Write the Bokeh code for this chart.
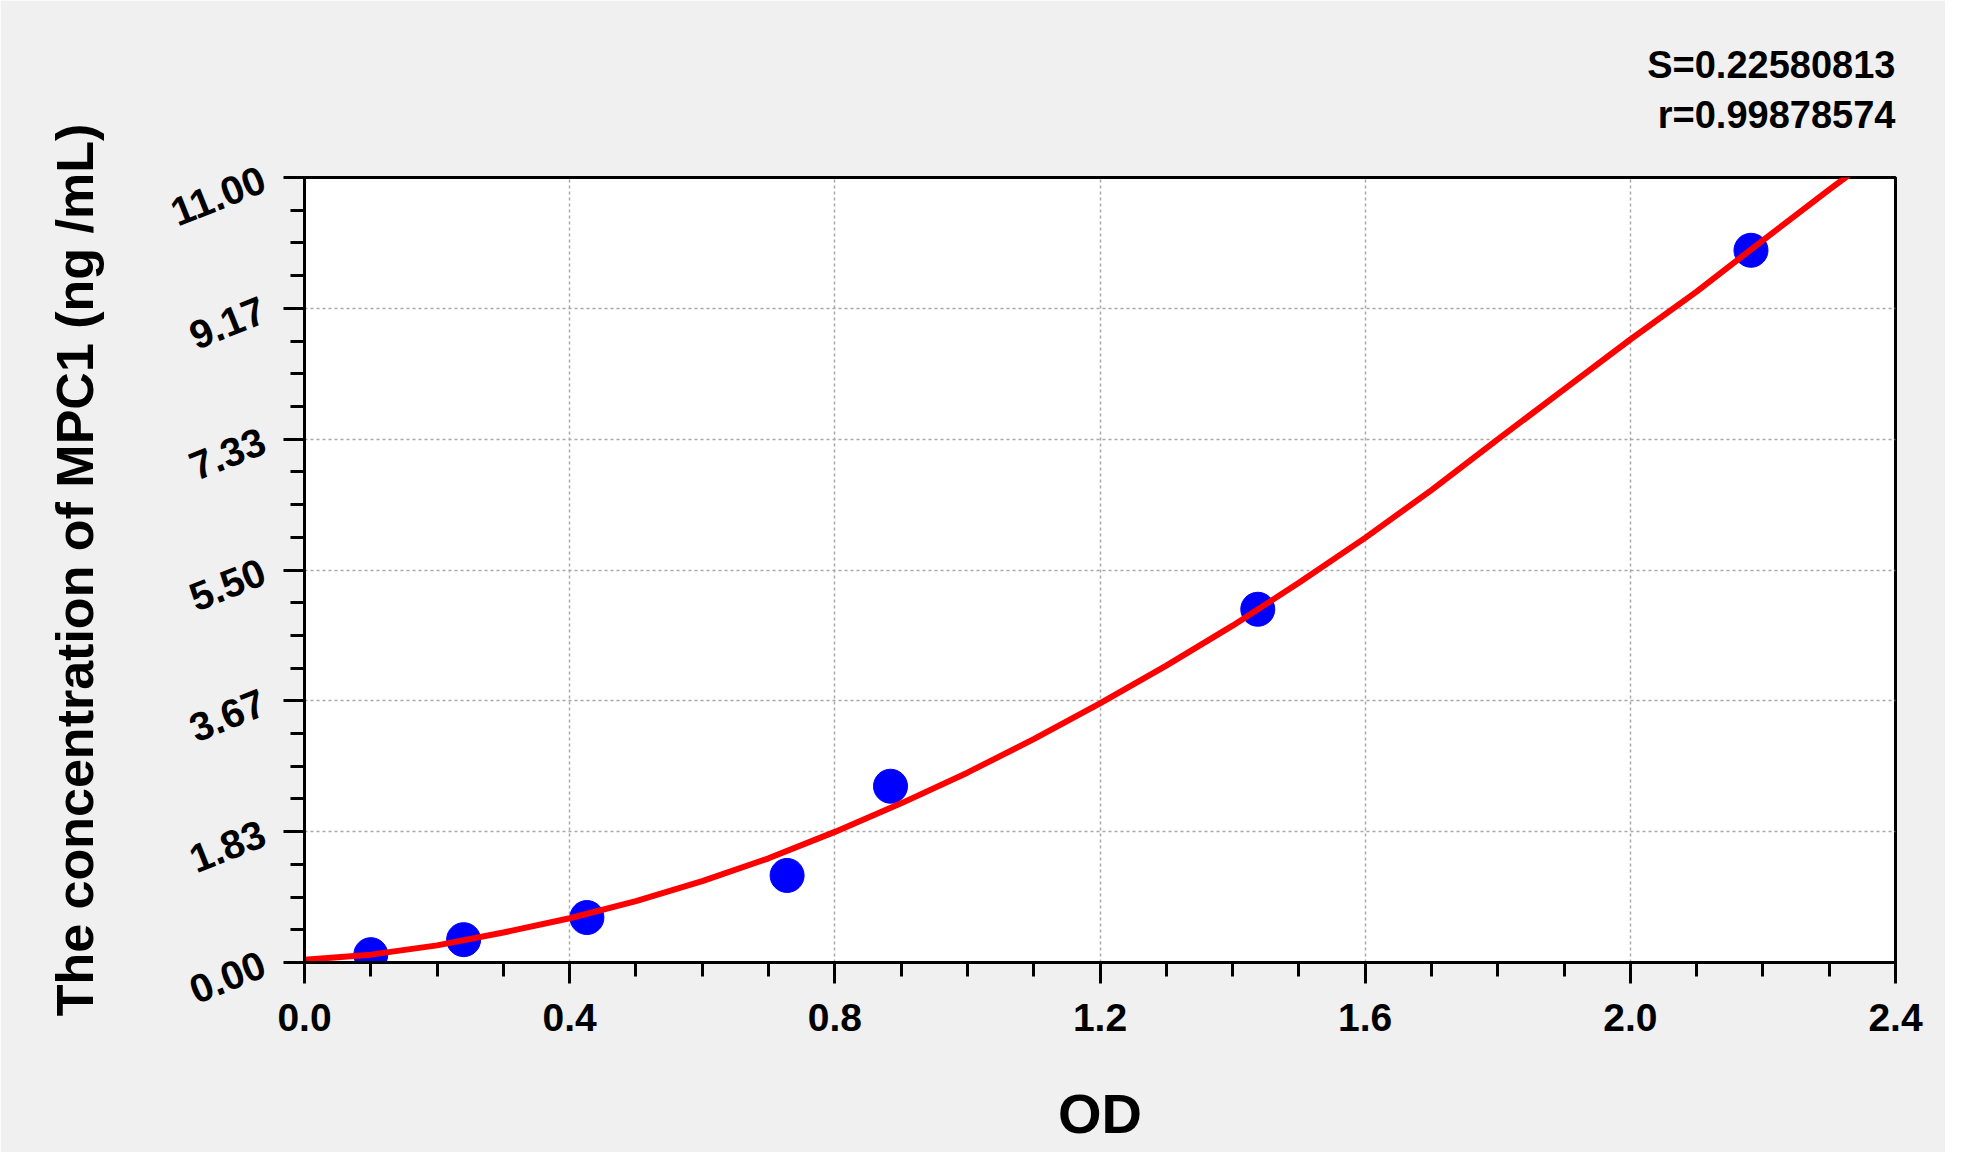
from bokeh.plotting import figure
from bokeh.models import Range1d, FixedTicker, Title
from bokeh.embed import file_html
from bokeh.resources import INLINE

# ---- data ----
od_points = [0.100, 0.240, 0.426, 0.728, 0.884, 1.438, 2.182]
conc_points = [0.11, 0.32, 0.63, 1.22, 2.47, 4.95, 9.98]

# fitted curve, read along its course
curve_od = [0.0, 0.1, 0.2, 0.3, 0.4, 0.5, 0.6, 0.7, 0.8, 0.9, 1.0, 1.1, 1.2,
            1.3, 1.4, 1.5, 1.6, 1.7, 1.8, 1.9, 2.0, 2.1, 2.2, 2.3, 2.345]
curve_conc = [0.04, 0.11, 0.24, 0.42, 0.62, 0.86, 1.14, 1.46, 1.83, 2.23, 2.66, 3.13, 3.63,
              4.16, 4.72, 5.32, 5.95, 6.62, 7.33, 8.03, 8.73, 9.40, 10.12, 10.83, 11.14]

x_ticks = [0.0, 0.4, 0.8, 1.2, 1.6, 2.0, 2.4]
x_tick_labels = ["0.0", "0.4", "0.8", "1.2", "1.6", "2.0", "2.4"]
y_ticks = [0.0, 1.8333333, 3.6666667, 5.5, 7.3333333, 9.1666667, 11.0]
y_tick_labels = ["0.00", "1.83", "3.67", "5.50", "7.33", "9.17", "11.00"]

stat_s = "S=0.22580813"
stat_r = "r=0.99878574"
x_title = "OD"
y_title = "The concentration of MPC1 (ng /mL)"

FONT = "Liberation Sans"

p = figure(
    frame_width=1591, frame_height=785,
    min_border_left=304, min_border_top=177,
    min_border_right=50, min_border_bottom=190,
    x_range=Range1d(0, 2.4), y_range=Range1d(0, 11),
    output_backend="svg", toolbar_location=None,
    background_fill_color="white", border_fill_color="#f0f0f0",
)
p.outline_line_color = "black"
p.outline_line_width = 3

# minor ticks (quarters of y steps, 0.1 steps on x)
x_minor = [round(i * 0.1, 3) for i in range(0, 25)]
y_minor = [i * 11.0 / 24 for i in range(0, 25)]

p.xaxis.ticker = FixedTicker(ticks=x_ticks, minor_ticks=x_minor)
p.yaxis.ticker = FixedTicker(ticks=y_ticks, minor_ticks=y_minor)
p.xaxis.major_label_overrides = {t: l for t, l in zip(x_ticks, x_tick_labels)}
p.yaxis.major_label_overrides = {t: l for t, l in zip(y_ticks, y_tick_labels)}

for ax in (p.xaxis[0], p.yaxis[0]):
    ax.axis_line_color = "black"
    ax.axis_line_width = 3
    ax.major_tick_line_color = "black"
    ax.major_tick_line_width = 3
    ax.minor_tick_line_color = "black"
    ax.minor_tick_line_width = 3
    ax.major_tick_in = 0
    ax.major_tick_out = 21
    ax.minor_tick_in = 0
    ax.minor_tick_out = 14
    ax.major_label_text_font = FONT
    ax.major_label_text_font_style = "bold"
    ax.major_label_text_color = "black"
    ax.axis_label_text_font = FONT
    ax.axis_label_text_font_style = "bold"
    ax.axis_label_text_color = "black"
    ax.major_label_standoff = 20

p.xaxis.major_label_text_font_size = "39px"
p.yaxis.major_label_text_font_size = "40px"
p.yaxis.major_label_orientation = 0.38

p.xaxis.axis_label = x_title
p.xaxis.axis_label_text_font_size = "56px"
p.xaxis.axis_label_standoff = 48

p.yaxis.axis_label = y_title
p.yaxis.axis_label_text_font_size = "52px"
p.yaxis.axis_label_standoff = 55

for g in (p.xgrid[0], p.ygrid[0]):
    g.grid_line_color = "#a8a8a8"
    g.grid_line_width = 1.5
    g.grid_line_dash = "3 3"

p.scatter(od_points, conc_points, size=34, fill_color="#0000ff", line_color="#0000ff")
p.line(curve_od, curve_conc, line_color="#ff0000", line_width=6)

# lines of a multi-line title are left-aligned; a no-break space evens the widths
stats_text = stat_s + "\n" + "\u00a0" + stat_r
p.add_layout(Title(text=stats_text, align="right", standoff=82, text_font=FONT,
                   text_font_style="bold", text_font_size="38px", text_line_height=1.2,
                   text_color="black"), "above")

html = file_html(p, INLINE)
html = html.replace("<body>", '<body style="background-color:#f0f0f0;">', 1)
open("out.html", "w").write(html)
